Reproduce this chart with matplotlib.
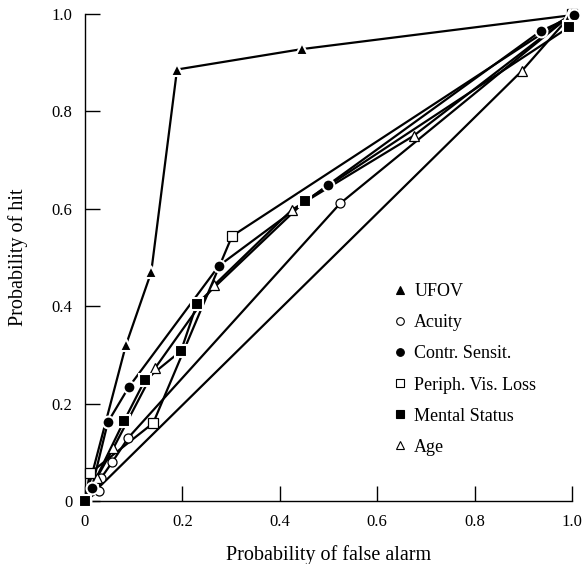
import matplotlib

matplotlib.use("Agg")
import matplotlib.pyplot as plt
from matplotlib.lines import Line2D

# ROC points, listed in drawing order
ufov_x = [0.0, 0.084, 0.136, 0.189, 0.446, 0.995]
ufov_y = [0.0, 0.32, 0.47, 0.886, 0.928, 0.997]

acuity_x = [0.0, 0.029, 0.033, 0.056, 0.089, 0.524, 1.0]
acuity_y = [0.0, 0.021, 0.047, 0.080, 0.130, 0.611, 1.0]

contr_x = [0.0, 0.014, 0.047, 0.090, 0.275, 0.499, 0.936, 1.005]
contr_y = [0.0, 0.027, 0.162, 0.234, 0.483, 0.649, 0.965, 0.997]

periph_x = [0.0, 0.010, 0.140, 0.302, 1.0]
periph_y = [0.0, 0.057, 0.160, 0.544, 1.0]

mental_x = [0.0, 0.080, 0.123, 0.197, 0.230, 0.452, 0.994]
mental_y = [0.0, 0.164, 0.248, 0.308, 0.405, 0.616, 0.973]

age_x = [1.0, 0.897, 0.0, 0.024, 0.058, 0.144, 0.265, 0.425, 0.675, 1.0]
age_y = [1.0, 0.883, 0.0, 0.047, 0.108, 0.273, 0.443, 0.598, 0.750, 1.0]

labels = ["UFOV", "Acuity", "Contr. Sensit.", "Periph. Vis. Loss", "Mental Status", "Age"]
series = [
    (ufov_x, ufov_y, "^", True),
    (acuity_x, acuity_y, "o", False),
    (contr_x, contr_y, "o", True),
    (periph_x, periph_y, "s", False),
    (mental_x, mental_y, "s", True),
    (age_x, age_y, "^", False),
]
ticks = [0.0, 0.2, 0.4, 0.6, 0.8, 1.0]
tick_labels = ["0", "0.2", "0.4", "0.6", "0.8", "1.0"]

plt.rcParams["font.family"] = ["Liberation Serif", "DejaVu Serif"]

fig = plt.figure(figsize=(5.87, 5.64), dpi=100)
ax = fig.add_axes([0.1448, 0.1117, 0.8296, 0.8635])

handles = []
for (xs, ys, marker, filled), label in zip(series, labels):
    ax.plot(xs, ys, color="black", linewidth=1.6, zorder=2, clip_on=False)
    if filled:
        # white edge leaves the small gap round solid markers seen in the print
        style = dict(markerfacecolor="black", markeredgecolor="white", markeredgewidth=1.5,
                     markersize=8.5, zorder=4)
    else:
        style = dict(markerfacecolor="white", markeredgecolor="black", markeredgewidth=0.9,
                     markersize=6.5, zorder=3)
    ax.plot(xs, ys, linestyle="none", marker=marker, clip_on=False, **style)
    handles.append(
        Line2D([], [], linestyle="none", marker=marker,
               markerfacecolor="black" if filled else "white",
               markeredgecolor="black", markeredgewidth=0.8, markersize=5.5, label=label)
    )

ax.set_xlim(0, 1)
ax.set_ylim(0, 1)
ax.set_xticks(ticks)
ax.set_yticks(ticks)
ax.set_xticklabels(tick_labels)
ax.set_yticklabels(tick_labels)
ax.tick_params(direction="in", length=11, width=1, labelsize=12, pad=9)
for side in ["top", "right"]:
    ax.spines[side].set_visible(False)
for side in ["left", "bottom"]:
    ax.spines[side].set_linewidth(1)

ax.set_xlabel("Probability of false alarm", fontsize=14.5, labelpad=11)
ax.set_ylabel("Probability of hit", fontsize=14.5, labelpad=17)

ax.legend(handles=handles, frameon=False, loc="upper left", bbox_to_anchor=(0.628, 0.447),
          fontsize=13, labelspacing=0.78, handletextpad=0.3, handlelength=1.0,
          borderaxespad=0, borderpad=0)

fig.savefig("out.png", dpi=100)
